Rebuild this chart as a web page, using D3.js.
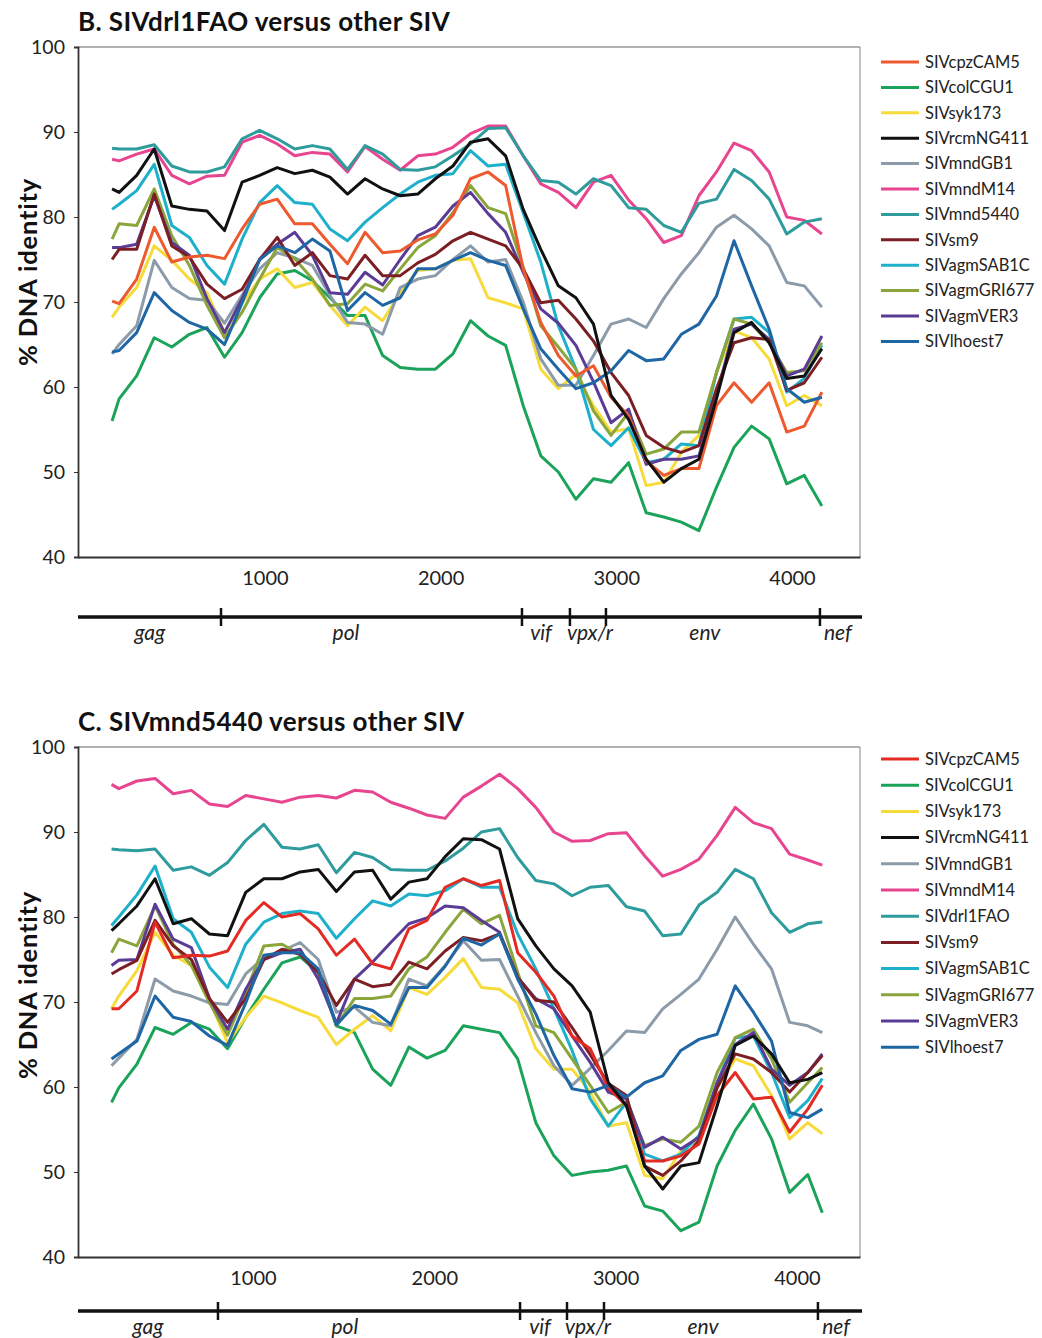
<!DOCTYPE html>
<html>
<head>
<meta charset="utf-8">
<script src="https://cdn.jsdelivr.net/npm/d3@7"></script>
<style>
  body { margin: 0; background: #fff; }
  svg { display: block; font-family: Lato, "Open Sans", sans-serif; }
</style>
</head>
<body>
<script>
// ---- data: panel B (SIVdrl1FAO vs others) ----
const namesB = ['SIVcpzCAM5', 'SIVcolCGU1', 'SIVsyk173', 'SIVrcmNG411', 'SIVmndGB1', 'SIVmndM14',
  'SIVmnd5440', 'SIVsm9', 'SIVagmSAB1C', 'SIVagmGRI677', 'SIVagmVER3', 'SIVlhoest7'];
const colorsB = ['#ee5a2f', '#1ba35a', '#f7db3a', '#111111', '#8c9ba9', '#e84590',
  '#2e9b9c', '#7c1f24', '#1eb0cb', '#8aa53b', '#5a3c95', '#1f66a5'];

const posB = [130, 170, 270, 370, 470, 570, 670, 770, 870, 970, 1070, 1170, 1270, 1370, 1470, 1570, 1670,
  1770, 1870, 1970, 2070, 2170, 2270, 2370, 2470, 2570, 2670, 2770, 2870, 2970, 3070, 3170, 3270, 3370,
  3470, 3570, 3670, 3770, 3870, 3970, 4070, 4170];

const bCpzCAM5 = [70.1, 69.8, 72.7, 78.8, 74.7, 75.3, 75.5, 75.1, 78.6, 81.5, 82.1, 79.2, 79.2, 76.8,
  74.5, 78.2, 75.8, 76.0, 77.3, 78.0, 80.2, 84.5, 85.3, 83.7, 73.9, 67.6, 63.7, 61.3, 62.5,
  58.8, 56.6, 51.3, 49.6, 50.4, 50.4, 57.8, 60.5, 58.2, 60.5, 54.7, 55.4, 59.4];
const bColCGU1 = [56.0, 58.6, 61.3, 65.8, 64.7, 66.2, 67.0, 63.5, 66.4, 70.5, 73.3, 73.7, 72.5, 70.5,
  68.4, 68.4, 63.7, 62.3, 62.1, 62.1, 63.9, 67.8, 66.0, 64.9, 57.8, 51.9, 50.0, 46.8, 49.2,
  48.8, 51.1, 45.2, 44.7, 44.1, 43.1, 48.2, 52.9, 55.4, 53.9, 48.6, 49.6, 46.0];
const bSyk173 = [68.2, 69.4, 71.7, 76.6, 74.9, 72.7, 71.1, 66.4, 69.9, 72.7, 73.9, 71.7, 72.3, 69.6,
  67.2, 69.4, 67.8, 71.1, 73.7, 73.9, 74.9, 75.1, 70.5, 69.9, 69.2, 62.1, 59.8, 61.5, 57.8,
  54.7, 55.1, 48.4, 48.8, 52.3, 54.3, 61.7, 66.6, 65.8, 63.3, 57.8, 59.0, 57.8];
const bRcmNG411 = [83.3, 82.9, 84.9, 88.0, 81.3, 80.9, 80.7, 78.4, 84.1, 84.9, 85.8, 85.1, 85.5, 84.7,
  82.7, 84.5, 83.3, 82.5, 82.7, 84.5, 86.0, 88.8, 89.2, 87.2, 80.9, 76.2, 71.9, 70.5, 67.4,
  59.0, 56.2, 51.5, 48.8, 50.4, 51.5, 58.6, 66.4, 67.6, 65.2, 61.0, 61.3, 64.5];
const bMndGB1 = [63.9, 65.0, 67.2, 74.9, 71.7, 70.4, 70.2, 67.5, 70.8, 73.9, 75.8, 75.2, 74.3, 70.8,
  67.6, 67.4, 66.2, 71.7, 72.7, 73.1, 75.0, 76.6, 74.7, 75.0, 70.0, 63.3, 60.2, 60.2, 63.7,
  67.4, 68.0, 67.0, 70.4, 73.3, 75.8, 78.8, 80.2, 78.6, 76.6, 72.3, 71.9, 69.4];
const bMndM14 = [86.8, 86.6, 87.4, 88.0, 84.9, 83.9, 84.8, 84.9, 88.8, 89.6, 88.6, 87.2, 87.6, 87.4,
  85.3, 88.3, 86.8, 85.5, 87.2, 87.4, 88.2, 89.8, 90.7, 90.7, 87.2, 83.9, 82.9, 81.1, 84.1,
  84.9, 82.0, 79.8, 77.0, 77.8, 82.5, 85.3, 88.7, 87.8, 85.3, 80.0, 79.6, 78.0];
const bMnd5440 = [88.1, 88.0, 88.0, 88.5, 86.0, 85.3, 85.3, 85.9, 89.2, 90.2, 89.2, 88.0, 88.4, 88.0,
  85.6, 88.4, 87.4, 85.6, 85.5, 85.9, 87.2, 88.6, 90.4, 90.5, 87.2, 84.3, 84.1, 82.7, 84.5,
  83.7, 81.1, 80.9, 79.0, 78.2, 81.6, 82.1, 85.6, 84.3, 82.1, 78.0, 79.4, 79.8];
const bSm9 = [75.0, 76.2, 76.2, 82.7, 76.6, 75.3, 72.1, 70.4, 71.5, 75.0, 77.6, 74.3, 75.8, 73.1,
  72.7, 75.5, 73.1, 73.1, 74.6, 75.6, 77.2, 78.2, 77.4, 76.6, 73.9, 69.9, 70.2, 68.0, 65.4,
  61.7, 59.0, 54.3, 52.9, 52.3, 53.1, 59.8, 65.2, 65.8, 65.6, 59.6, 60.5, 63.5];
const bAgmSAB1C = [80.9, 81.5, 83.1, 86.2, 79.0, 77.6, 74.3, 72.1, 77.4, 81.7, 83.7, 81.7, 81.5, 78.6,
  77.2, 79.4, 81.1, 82.7, 84.1, 84.9, 85.1, 87.8, 86.0, 86.2, 80.5, 74.7, 67.2, 62.1, 55.0,
  53.1, 55.2, 51.1, 51.5, 53.3, 53.1, 61.7, 68.0, 68.2, 66.4, 59.4, 61.0, 64.9];
const bAgmGRI677 = [77.4, 79.2, 79.0, 83.3, 77.8, 74.3, 69.6, 65.8, 68.8, 72.7, 76.4, 75.1, 72.7, 69.6,
  69.8, 72.1, 71.3, 73.9, 76.4, 77.8, 80.5, 83.7, 81.1, 80.4, 74.1, 67.2, 64.7, 62.1, 57.2,
  54.3, 57.0, 52.1, 52.7, 54.7, 54.7, 61.7, 68.0, 67.4, 65.2, 61.7, 61.9, 65.2];
const bAgmVER3 = [76.4, 76.4, 76.8, 82.5, 77.0, 75.5, 70.4, 66.4, 70.4, 75.0, 76.8, 78.2, 75.5, 71.1,
  70.9, 73.5, 72.0, 75.0, 77.8, 78.8, 81.3, 82.9, 80.4, 78.2, 73.5, 69.2, 67.5, 64.9, 60.6,
  55.8, 57.4, 50.9, 51.5, 51.5, 51.9, 59.0, 66.8, 67.4, 65.6, 61.3, 62.1, 66.0];
const bLhoest7 = [64.1, 64.3, 66.4, 71.1, 69.0, 67.6, 66.8, 65.0, 69.9, 75.0, 76.6, 75.8, 77.4, 76.0,
  69.0, 71.1, 69.6, 70.5, 73.9, 73.9, 74.9, 75.8, 74.9, 74.3, 69.2, 64.5, 62.1, 59.8, 60.5,
  61.9, 64.3, 63.1, 63.3, 66.2, 67.4, 70.7, 77.2, 71.9, 66.8, 59.8, 58.2, 58.8];

// ---- data: panel C (SIVmnd5440 vs others) ----
const namesC = ['SIVcpzCAM5', 'SIVcolCGU1', 'SIVsyk173', 'SIVrcmNG411', 'SIVmndGB1', 'SIVmndM14',
  'SIVdrl1FAO', 'SIVsm9', 'SIVagmSAB1C', 'SIVagmGRI677', 'SIVagmVER3', 'SIVlhoest7'];
const colorsC = ['#e32b24', '#1ba35a', '#f7db3a', '#111111', '#8c9ba9', '#e84590',
  '#2e9b9c', '#7c1f24', '#1eb0cb', '#8aa53b', '#5a3c95', '#1f66a5'];

const posC = [220, 260, 360, 460, 560, 660, 760, 860, 960, 1060, 1160, 1260, 1360, 1460, 1560, 1660,
  1760, 1860, 1960, 2060, 2160, 2260, 2360, 2460, 2560, 2660, 2760, 2860, 2960, 3060, 3160, 3260,
  3360, 3460, 3560, 3660, 3760, 3860, 3960, 4060, 4140];

const cCpzCAM5 = [69.2, 69.2, 71.3, 79.4, 75.2, 75.5, 75.4, 76.0, 79.6, 81.7, 80.0, 80.4, 78.6, 75.5,
  77.4, 74.5, 73.9, 78.6, 79.6, 83.5, 84.5, 83.7, 84.3, 75.8, 73.5, 70.7, 66.0, 64.5,
  59.9, 57.8, 51.3, 51.3, 51.9, 53.3, 59.0, 61.7, 58.6, 58.8, 54.7, 57.4, 60.2];
const cColCGU1 = [58.2, 59.9, 62.7, 67.0, 66.2, 67.6, 66.8, 64.5, 68.2, 71.5, 74.6, 75.3, 73.5, 67.2,
  66.4, 62.1, 60.2, 64.7, 63.4, 64.3, 67.2, 66.8, 66.4, 63.3, 55.8, 51.9, 49.6, 50.0,
  50.2, 50.7, 46.0, 45.4, 43.1, 44.1, 50.7, 54.9, 58.0, 53.9, 47.6, 49.7, 45.2];
const cSyk173 = [69.2, 70.7, 73.7, 78.2, 75.5, 74.3, 70.2, 65.2, 68.2, 70.7, 69.9, 69.0, 68.2, 65.0,
  66.8, 68.4, 66.6, 71.7, 70.9, 72.9, 75.1, 71.7, 71.5, 69.9, 64.5, 62.1, 62.1, 59.4,
  55.4, 55.8, 49.6, 49.2, 52.5, 53.9, 59.9, 63.3, 62.5, 59.0, 53.9, 55.8, 54.5];
const cRcmNG411 = [78.4, 79.2, 81.3, 84.5, 79.2, 79.8, 78.0, 77.8, 82.9, 84.5, 84.5, 85.3, 85.6, 83.0,
  85.3, 85.5, 82.1, 84.1, 84.5, 87.1, 89.2, 89.1, 88.0, 79.8, 76.6, 73.9, 71.9, 68.8,
  60.5, 57.8, 50.7, 48.0, 50.7, 51.1, 57.8, 64.9, 66.0, 63.9, 60.5, 60.9, 61.7];
const cMndGB1 = [62.5, 63.4, 65.6, 72.7, 71.3, 70.7, 69.9, 69.7, 73.3, 75.2, 76.0, 77.0, 75.0, 68.8,
  69.4, 67.6, 67.2, 72.7, 71.9, 74.3, 77.2, 74.9, 75.0, 70.7, 66.4, 62.5, 60.2, 62.2,
  64.3, 66.6, 66.4, 69.2, 70.9, 72.7, 76.2, 80.0, 76.8, 73.9, 67.6, 67.2, 66.4];
const cMndM14 = [95.6, 95.1, 96.0, 96.3, 94.5, 94.9, 93.3, 93.0, 94.3, 93.9, 93.5, 94.1, 94.3, 94.0,
  94.9, 94.7, 93.5, 92.8, 92.0, 91.6, 94.1, 95.4, 96.8, 95.1, 92.9, 90.0, 88.9, 89.0,
  89.8, 89.9, 87.2, 84.8, 85.6, 86.8, 89.6, 92.9, 91.1, 90.4, 87.4, 86.7, 86.1];
const cDrl1FAO = [88.0, 87.9, 87.8, 88.0, 85.5, 85.9, 84.9, 86.4, 89.0, 90.9, 88.2, 88.0, 88.5, 85.2,
  87.6, 87.0, 85.6, 85.5, 85.5, 86.6, 88.1, 90.0, 90.4, 87.0, 84.3, 83.9, 82.5, 83.5,
  83.7, 81.2, 80.7, 77.8, 78.0, 81.4, 82.9, 85.6, 84.5, 80.5, 78.2, 79.2, 79.4];
const cSm9 = [73.3, 73.8, 74.9, 79.6, 76.6, 75.0, 70.4, 67.6, 70.4, 75.0, 76.2, 75.6, 73.5, 69.6,
  72.7, 71.8, 72.1, 74.7, 73.9, 76.0, 77.6, 77.2, 78.0, 72.9, 70.2, 70.0, 67.0, 63.8,
  60.4, 59.0, 50.7, 49.6, 51.3, 53.7, 59.9, 63.9, 63.3, 61.7, 59.4, 61.7, 63.7];
const cAgmSAB1C = [79.0, 80.0, 82.6, 86.0, 79.8, 78.2, 74.1, 71.7, 76.8, 79.4, 80.4, 80.7, 80.4, 77.5,
  79.8, 81.9, 81.3, 82.7, 82.5, 83.1, 84.5, 83.5, 83.5, 78.0, 73.9, 69.2, 64.3, 58.6,
  55.4, 58.2, 52.1, 51.3, 52.1, 54.3, 60.5, 65.8, 66.0, 61.7, 56.4, 58.4, 61.0];
const cAgmGRI677 = [75.8, 77.4, 76.6, 81.3, 76.8, 74.3, 69.9, 66.1, 71.1, 76.6, 76.8, 75.6, 73.5, 67.2,
  70.4, 70.4, 70.7, 73.9, 75.3, 78.2, 80.9, 79.2, 80.2, 73.5, 67.2, 66.4, 63.3, 60.2,
  57.0, 58.2, 53.1, 53.9, 53.5, 55.4, 61.7, 65.8, 66.8, 63.3, 58.2, 60.5, 62.3];
const cAgmVER3 = [74.3, 74.9, 75.0, 81.5, 77.4, 76.4, 70.4, 66.8, 71.5, 75.0, 75.8, 76.2, 72.7, 67.5,
  72.7, 74.7, 77.0, 79.2, 79.9, 81.3, 81.1, 79.6, 78.2, 72.9, 70.4, 69.2, 66.0, 62.9,
  59.4, 58.6, 52.9, 54.1, 52.7, 54.1, 60.5, 65.0, 66.4, 62.1, 60.2, 61.7, 63.9];
const cLhoest7 = [63.3, 63.9, 65.4, 70.7, 68.2, 67.7, 66.0, 64.9, 69.9, 75.5, 75.8, 75.8, 73.9, 67.3,
  69.6, 69.0, 67.4, 71.7, 71.7, 74.2, 77.5, 76.7, 78.0, 72.7, 68.6, 63.7, 59.8, 59.4,
  60.2, 58.8, 60.5, 61.3, 64.3, 65.6, 66.2, 71.9, 68.8, 65.4, 57.0, 56.4, 57.4];

// axis ticks and gene map
const yTicks = [40, 50, 60, 70, 80, 90, 100];
const xTicks = [1000, 2000, 3000, 4000];
const genes = ['gag', 'pol', 'vif', 'vpx/r', 'env', 'nef'];
const geneBoundsB = [750, 2463, 2736, 2941, 4159];
const geneLabelPosB = [345, 1461, 2571, 2850, 3504, 4261];
const geneBoundsC = [807, 2473, 2732, 2936, 4116];
const geneLabelPosC = [421, 1507, 2583, 2848, 3482, 4216];

const seriesB = [bCpzCAM5, bColCGU1, bSyk173, bRcmNG411, bMndGB1, bMndM14,
  bMnd5440, bSm9, bAgmSAB1C, bAgmGRI677, bAgmVER3, bLhoest7];
const seriesC = [cCpzCAM5, cColCGU1, cSyk173, cRcmNG411, cMndGB1, cMndM14,
  cDrl1FAO, cSm9, cAgmSAB1C, cAgmGRI677, cAgmVER3, cLhoest7];

// black line goes on top
const drawOrder = [1, 2, 4, 5, 6, 8, 9, 10, 7, 0, 11, 3];

const W = 1042, H = 1338;
const plotLeft = 78, plotRight = 860;

const svg = d3.select('body').append('svg')
  .attr('width', W)
  .attr('height', H);

svg.append('rect').attr('width', W).attr('height', H).attr('fill', '#fff');

const drawPanel = (cfg) => {
  const x = d3.scaleLinear().domain(cfg.xDomain).range([plotLeft, plotRight]);
  const y = d3.scaleLinear().domain([40, 100]).range([cfg.bottom, cfg.top]);
  const g = svg.append('g');

  // title
  g.append('text')
    .attr('x', 78)
    .attr('y', cfg.titleY)
    .attr('font-size', 26)
    .attr('font-weight', 'bold')
    .attr('letter-spacing', 0.4)
    .attr('fill', '#111')
    .text(cfg.title);

  // y axis label
  g.append('text')
    .attr('transform', `translate(37,${cfg.yLabelY}) rotate(-90)`)
    .attr('text-anchor', 'middle')
    .attr('font-size', 25.5)
    .attr('font-weight', 'bold')
    .attr('letter-spacing', 0.8)
    .attr('fill', '#111')
    .text('% DNA identity');

  // frame
  g.append('line').attr('x1', plotLeft).attr('x2', plotRight).attr('y1', cfg.top).attr('y2', cfg.top)
    .attr('stroke', '#666').attr('stroke-width', 1.2);
  g.append('line').attr('x1', plotRight).attr('x2', plotRight).attr('y1', cfg.top).attr('y2', cfg.bottom)
    .attr('stroke', '#888').attr('stroke-width', 1);

  // y axis
  const yAxis = g.append('g')
    .attr('transform', `translate(${plotLeft},0)`)
    .call(d3.axisLeft(y).tickValues(yTicks).tickSize(4).tickPadding(9));
  yAxis.select('.domain').attr('stroke', '#333').attr('stroke-width', 1.8);
  yAxis.selectAll('.tick line').attr('stroke', '#333');
  yAxis.selectAll('text')
    .attr('font-size', 19.5)
    .attr('font-family', 'Lato, sans-serif')
    .attr('fill', '#222');

  // x axis
  const xAxis = g.append('g')
    .attr('transform', `translate(0,${cfg.bottom})`)
    .call(d3.axisBottom(x).tickValues(xTicks).tickFormat(d3.format('d')).tickSize(0).tickPadding(14));
  xAxis.select('.domain').attr('stroke', '#333').attr('stroke-width', 1.8);
  xAxis.selectAll('text')
    .attr('font-size', 20)
    .attr('font-family', 'Lato, sans-serif')
    .attr('fill', '#222');

  // lines
  drawOrder.forEach(i => {
    const line = d3.line()
      .x((d, k) => x(cfg.xs[k]))
      .y(d => y(d));
    g.append('path')
      .datum(cfg.series[i])
      .attr('d', line)
      .attr('fill', 'none')
      .attr('stroke', cfg.colors[i])
      .attr('stroke-width', 3)
      .attr('stroke-linejoin', 'round');
  });

  // legend
  const legend = g.append('g')
    .selectAll('g')
    .data(cfg.names)
    .enter().append('g')
    .attr('transform', (d, i) => `translate(0,${cfg.legendY0 + i * cfg.legendStep})`);
  legend.append('line')
    .attr('x1', 881).attr('x2', 919)
    .attr('stroke', (d, i) => cfg.colors[i])
    .attr('stroke-width', 3);
  legend.append('text')
    .attr('x', 925)
    .attr('dy', '0.35em')
    .attr('font-size', 16.5)
    .attr('fill', '#222')
    .text(d => d);

  // gene map
  const gy = cfg.geneY;
  g.append('line')
    .attr('x1', plotLeft).attr('x2', 862)
    .attr('y1', gy).attr('y2', gy)
    .attr('stroke', '#111').attr('stroke-width', 3.5);
  g.selectAll('.gtick')
    .data(cfg.geneBounds)
    .enter().append('line')
    .attr('x1', d => x(d)).attr('x2', d => x(d))
    .attr('y1', gy - 9).attr('y2', gy + 9)
    .attr('stroke', '#111').attr('stroke-width', 2.5);
  g.selectAll('.glabel')
    .data(genes)
    .enter().append('text')
    .attr('x', (d, i) => x(cfg.geneLabelPos[i]))
    .attr('y', gy + 23)
    .attr('text-anchor', 'middle')
    .attr('font-size', 21)
    .attr('font-style', 'italic')
    .attr('fill', '#222')
    .text(d => d);
};

drawPanel({
  title: 'B. SIVdrl1FAO versus other SIV',
  titleY: 31,
  top: 47,
  bottom: 557,
  yLabelY: 272,
  xDomain: [-64, 4387],
  xs: posB,
  series: seriesB,
  names: namesB,
  colors: colorsB,
  legendY0: 62,
  legendStep: 25.4,
  geneY: 617,
  geneBounds: geneBoundsB,
  geneLabelPos: geneLabelPosB
});

drawPanel({
  title: 'C. SIVmnd5440 versus other SIV',
  titleY: 731,
  top: 747,
  bottom: 1257,
  yLabelY: 985,
  xDomain: [35, 4348],
  xs: posC,
  series: seriesC,
  names: namesC,
  colors: colorsC,
  legendY0: 759,
  legendStep: 26.2,
  geneY: 1311,
  geneBounds: geneBoundsC,
  geneLabelPos: geneLabelPosC
});
</script>
</body>
</html>
